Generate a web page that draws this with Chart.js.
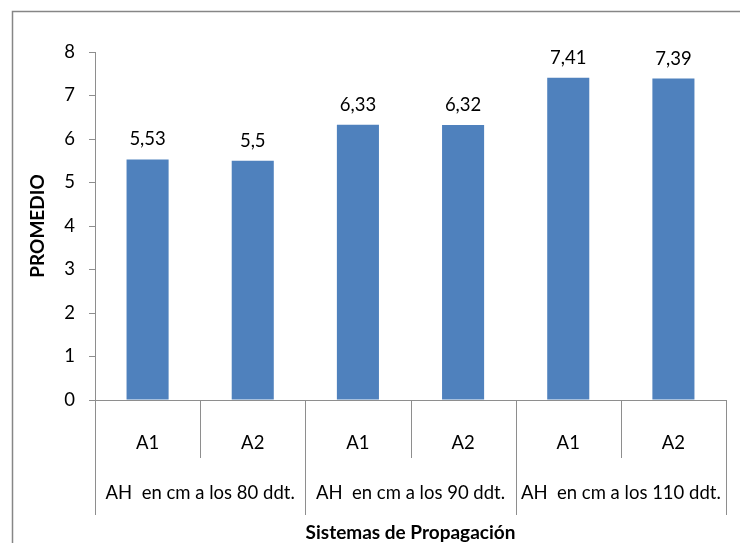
<!DOCTYPE html>
<html>
<head>
<meta charset="utf-8">
<script src="https://cdn.jsdelivr.net/npm/chart.js@4/dist/chart.umd.min.js"></script>
<style>
  html, body { margin: 0; padding: 0; background: #fff; }
  #wrap { width: 740px; height: 543px; }
</style>
</head>
<body>
<div id="wrap"><canvas id="c" width="740" height="543"></canvas></div>
<script>
// Promedio de altura por sistema de propagación
const subLabels = ['A1', 'A2', 'A1', 'A2', 'A1', 'A2'];
const groupLabels = ['AH  en cm a los 80 ddt.', 'AH  en cm a los 90 ddt.', 'AH  en cm a los 110 ddt.'];
const promedio = [5.53, 5.5, 6.33, 6.32, 7.41, 7.39];
const yTicks = [0, 1, 2, 3, 4, 5, 6, 7, 8];

const FONT = 'Lato, "Open Sans", sans-serif';
const TEXT = '#000000';
const LINE = '#8e8e8e';
const SIZE = 18.5;
const TITLE_SIZE = 19;

const decorations = {
  id: 'decorations',
  beforeDraw(chart) {
    const ctx = chart.ctx;
    ctx.save();
    ctx.strokeStyle = '#868686';
    ctx.lineWidth = 1.5;
    ctx.beginPath();
    ctx.moveTo(12.5, chart.height);
    ctx.lineTo(12.5, 11.5);
    ctx.lineTo(chart.width, 11.5);
    ctx.stroke();
    ctx.restore();
  },
  afterDraw(chart) {
    const ctx = chart.ctx;
    const x = chart.scales.x;
    const area = chart.chartArea;
    const n = subLabels.length;
    const step = (area.right - area.left) / n;
    ctx.save();
    // category separators under the axis
    ctx.strokeStyle = LINE;
    ctx.lineWidth = 1;
    for (let i = 0; i <= n; i++) {
      const px = Math.round(area.left + i * step) + 0.5;
      const bottom = i % 2 === 0 ? area.bottom + 115 : area.bottom + 58;
      ctx.beginPath();
      ctx.moveTo(px, area.bottom);
      ctx.lineTo(px, bottom);
      ctx.stroke();
    }
    // group labels
    ctx.fillStyle = TEXT;
    ctx.textAlign = 'center';
    ctx.textBaseline = 'middle';
    ctx.font = SIZE + 'px ' + FONT;
    groupLabels.forEach((g, k) => {
      const cx = (x.getPixelForValue(2 * k) + x.getPixelForValue(2 * k + 1)) / 2;
      ctx.fillText(g, cx, area.bottom + 93);
    });
    // value labels
    const meta = chart.getDatasetMeta(0);
    meta.data.forEach((bar, i) => {
      const txt = String(promedio[i]).replace('.', ',');
      ctx.fillText(txt, bar.x, bar.y - 20);
    });
    // axis titles
    ctx.font = 'bold ' + TITLE_SIZE + 'px ' + FONT;
    ctx.fillText('Sistemas de Propagación', (area.left + area.right) / 2, area.bottom + 133);
    ctx.translate(38, (area.top + area.bottom) / 2);
    ctx.rotate(-Math.PI / 2);
    ctx.fillText('PROMEDIO', 0, 0);
    ctx.restore();
  }
};

new Chart(document.getElementById('c'), {
  type: 'bar',
  data: {
    labels: subLabels,
    datasets: [{
      data: promedio,
      backgroundColor: '#4f81bd',
      borderWidth: 0,
      categoryPercentage: 1,
      barPercentage: 0.4
    }]
  },
  options: {
    responsive: false,
    animation: false,
    devicePixelRatio: 1,
    layout: { padding: { left: 0, top: 52, right: 14, bottom: 0 } },
    plugins: { legend: { display: false }, tooltip: { enabled: false } },
    scales: {
      x: {
        afterFit(s) { s.height = 143; },
        grid: { display: false },
        border: { display: true, color: LINE, width: 1 },
        ticks: { color: TEXT, font: { family: FONT, size: SIZE }, padding: 24, maxRotation: 0 }
      },
      y: {
        min: 0, max: 8,
        afterFit(s) { s.width = 95; },
        afterBuildTicks(s) { s.ticks = yTicks.map(v => ({ value: v })); },
        grid: { drawOnChartArea: false, tickLength: 6, color: LINE },
        border: { display: true, color: LINE, width: 1 },
        ticks: { color: TEXT, font: { family: FONT, size: SIZE }, padding: 14 }
      }
    }
  },
  plugins: [decorations]
});
</script>
</body>
</html>
